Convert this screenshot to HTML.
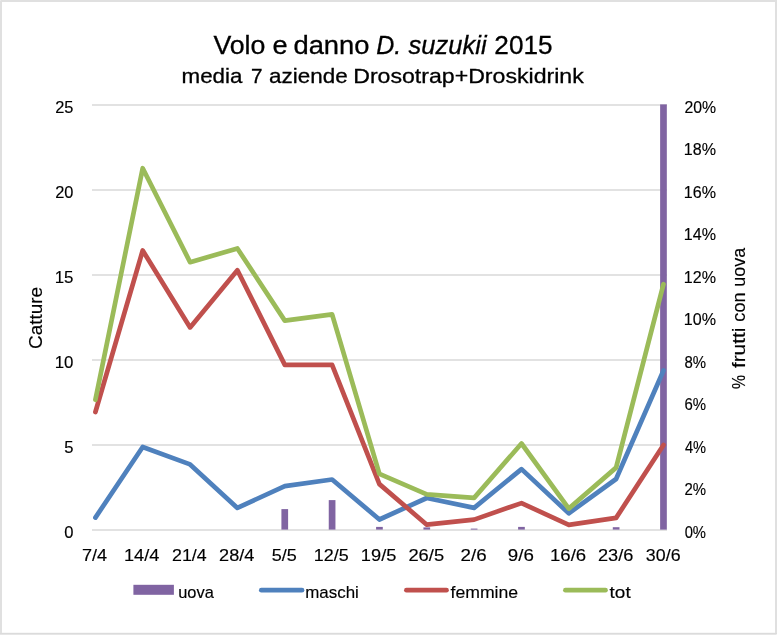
<!DOCTYPE html>
<html lang="it"><head><meta charset="utf-8"><title>Volo e danno D. suzukii 2015</title>
<style>
html,body{margin:0;padding:0;background:#fff;}
body{width:777px;height:635px;overflow:hidden;}
svg{display:block;font-family:"Liberation Sans",sans-serif;fill:#000;}
text{stroke:#000;stroke-width:0.15px;}
.b{stroke-width:0.3px;}
.g{stroke:#d9d9d9;stroke-width:1.5;}
.l{fill:none;stroke-width:4.7;stroke-linejoin:round;stroke-linecap:round;}
</style></head><body>
<svg width="777" height="635" viewBox="0 0 777 635">
<rect x="0" y="0" width="777" height="635" fill="#e0e0e0"/>
<rect x="2" y="2" width="773" height="631" fill="#fff"/>
<rect x="0" y="633" width="777" height="1" fill="#dbdbdb"/>
<rect x="0" y="634" width="777" height="1" fill="#e6e6e6"/>
<rect x="2" y="632" width="773" height="1" fill="#f8f8f8"/>
<rect x="0" y="0" width="1" height="1" fill="#e9e9e9"/>
<rect x="776" y="634" width="1" height="1" fill="#f0f0f0"/>

<line class="g" x1="92" x2="667" y1="105" y2="105"/>
<line class="g" x1="92" x2="667" y1="190" y2="190"/>
<line class="g" x1="92" x2="667" y1="275" y2="275"/>
<line class="g" x1="92" x2="667" y1="360" y2="360"/>
<line class="g" x1="92" x2="667" y1="445" y2="445"/>
<line class="g" x1="92" x2="667" y1="530" y2="530"/>
<rect x="281.41" y="509.1" width="6.70" height="20.5" fill="#8064a2"/>
<rect x="328.75" y="500.1" width="6.70" height="29.5" fill="#8064a2"/>
<rect x="376.09" y="526.9" width="6.70" height="2.7" fill="#8064a2"/>
<rect x="423.43" y="527.4" width="6.70" height="2.2" fill="#8064a2"/>
<rect x="470.77" y="528.6" width="6.70" height="1.0" fill="#8064a2"/>
<rect x="518.11" y="526.9" width="6.70" height="2.7" fill="#8064a2"/>
<rect x="612.79" y="527.2" width="6.70" height="2.4" fill="#8064a2"/>
<rect x="660.13" y="104.4" width="6.70" height="425.2" fill="#8064a2"/>
<polyline class="l" stroke="#4f81bd" points="95.4,517.6 142.7,447.0 190.1,464.4 237.4,507.9 284.8,486.1 332.1,479.5 379.4,519.5 426.8,498.0 474.1,507.9 521.5,469.1 568.8,513.3 616.1,479.0 663.5,370.5"/>
<polyline class="l" stroke="#c0504d" points="95.4,412.0 142.7,250.5 190.1,327.4 237.4,270.2 284.8,364.9 332.1,364.9 379.4,484.1 426.8,524.7 474.1,519.6 521.5,503.1 568.8,524.9 616.1,517.9 663.5,445.0"/>
<polyline class="l" stroke="#9bbb59" points="95.4,399.8 142.7,168.2 190.1,262.2 237.4,248.5 284.8,320.6 332.1,314.4 379.4,473.9 426.8,494.3 474.1,497.9 521.5,443.5 568.8,508.6 616.1,467.6 663.5,284.2"/>
<text x="213.40" y="53.60" font-size="25.7px" class="b" textLength="52.04" lengthAdjust="spacingAndGlyphs">Volo</text>
<text x="272.55" y="53.60" font-size="25.7px" class="b" textLength="15.06" lengthAdjust="spacingAndGlyphs">e</text>
<text x="293.44" y="53.60" font-size="25.7px" class="b" textLength="76.06" lengthAdjust="spacingAndGlyphs">danno</text>
<text x="376.17" y="53.60" font-size="25.7px" font-style="italic" class="b" textLength="24.99" lengthAdjust="spacingAndGlyphs">D.</text>
<text x="408.50" y="53.60" font-size="25.7px" font-style="italic" class="b" textLength="78.09" lengthAdjust="spacingAndGlyphs">suzukii</text>
<text x="494.33" y="53.60" font-size="25.7px" class="b" textLength="58.20" lengthAdjust="spacingAndGlyphs">2015</text>
<text x="181.56" y="82.80" font-size="20.8px" class="b" textLength="60.84" lengthAdjust="spacingAndGlyphs">media</text>
<text x="250.91" y="82.80" font-size="20.8px" class="b" textLength="11.52" lengthAdjust="spacingAndGlyphs">7</text>
<text x="269.09" y="82.80" font-size="20.8px" class="b" textLength="78.53" lengthAdjust="spacingAndGlyphs">aziende</text>
<text x="353.23" y="82.80" font-size="20.8px" class="b" textLength="230.53" lengthAdjust="spacingAndGlyphs">Drosotrap+Droskidrink</text>
<text x="55.25" y="112.80" font-size="16.4px" textLength="18.23" lengthAdjust="spacingAndGlyphs">25</text>
<text x="55.25" y="197.80" font-size="16.4px" textLength="18.23" lengthAdjust="spacingAndGlyphs">20</text>
<text x="54.71" y="282.80" font-size="16.4px" textLength="18.79" lengthAdjust="spacingAndGlyphs">15</text>
<text x="54.71" y="367.80" font-size="16.4px" textLength="18.79" lengthAdjust="spacingAndGlyphs">10</text>
<text x="64.39" y="452.80" font-size="16.4px" textLength="9.24" lengthAdjust="spacingAndGlyphs">5</text>
<text x="64.39" y="537.80" font-size="16.4px" textLength="9.24" lengthAdjust="spacingAndGlyphs">0</text>
<text x="684.38" y="112.80" font-size="16.4px" textLength="31.67" lengthAdjust="spacingAndGlyphs">20%</text>
<text x="683.87" y="155.30" font-size="16.4px" textLength="32.18" lengthAdjust="spacingAndGlyphs">18%</text>
<text x="683.87" y="197.80" font-size="16.4px" textLength="32.18" lengthAdjust="spacingAndGlyphs">16%</text>
<text x="683.87" y="240.30" font-size="16.4px" textLength="32.18" lengthAdjust="spacingAndGlyphs">14%</text>
<text x="683.87" y="282.80" font-size="16.4px" textLength="32.18" lengthAdjust="spacingAndGlyphs">12%</text>
<text x="683.87" y="325.30" font-size="16.4px" textLength="32.18" lengthAdjust="spacingAndGlyphs">10%</text>
<text x="684.42" y="367.80" font-size="16.4px" textLength="21.60" lengthAdjust="spacingAndGlyphs">8%</text>
<text x="684.42" y="410.30" font-size="16.4px" textLength="21.60" lengthAdjust="spacingAndGlyphs">6%</text>
<text x="684.88" y="452.80" font-size="16.4px" textLength="21.13" lengthAdjust="spacingAndGlyphs">4%</text>
<text x="684.42" y="495.30" font-size="16.4px" textLength="21.60" lengthAdjust="spacingAndGlyphs">2%</text>
<text x="684.65" y="537.80" font-size="16.4px" textLength="21.36" lengthAdjust="spacingAndGlyphs">0%</text>
<text x="81.97" y="560.90" font-size="16.4px" textLength="25.16" lengthAdjust="spacingAndGlyphs">7/4</text>
<text x="124.03" y="560.90" font-size="16.4px" textLength="35.33" lengthAdjust="spacingAndGlyphs">14/4</text>
<text x="172.01" y="560.90" font-size="16.4px" textLength="34.66" lengthAdjust="spacingAndGlyphs">21/4</text>
<text x="219.05" y="560.90" font-size="16.4px" textLength="35.28" lengthAdjust="spacingAndGlyphs">28/4</text>
<text x="271.74" y="560.90" font-size="16.4px" textLength="25.05" lengthAdjust="spacingAndGlyphs">5/5</text>
<text x="313.83" y="560.90" font-size="16.4px" textLength="34.88" lengthAdjust="spacingAndGlyphs">12/5</text>
<text x="360.87" y="560.90" font-size="16.4px" textLength="35.52" lengthAdjust="spacingAndGlyphs">19/5</text>
<text x="408.43" y="560.90" font-size="16.4px" textLength="35.67" lengthAdjust="spacingAndGlyphs">26/5</text>
<text x="460.52" y="560.90" font-size="16.4px" textLength="26.08" lengthAdjust="spacingAndGlyphs">2/6</text>
<text x="507.88" y="560.90" font-size="16.4px" textLength="26.08" lengthAdjust="spacingAndGlyphs">9/6</text>
<text x="549.98" y="560.90" font-size="16.4px" textLength="36.16" lengthAdjust="spacingAndGlyphs">16/6</text>
<text x="598.03" y="560.90" font-size="16.4px" textLength="35.36" lengthAdjust="spacingAndGlyphs">23/6</text>
<text x="645.88" y="560.90" font-size="16.4px" textLength="34.66" lengthAdjust="spacingAndGlyphs">30/6</text>
<text x="178.20" y="598.40" font-size="16.4px" textLength="35.60" lengthAdjust="spacingAndGlyphs">uova</text>
<text x="305.27" y="598.40" font-size="16.4px" textLength="53.58" lengthAdjust="spacingAndGlyphs">maschi</text>
<text x="450.53" y="598.40" font-size="16.4px" textLength="67.62" lengthAdjust="spacingAndGlyphs">femmine</text>
<text x="609.61" y="598.40" font-size="16.4px" textLength="21.07" lengthAdjust="spacingAndGlyphs">tot</text>
<text transform="translate(42.30,348.95) rotate(-90)" font-size="18.85px" textLength="62.05" lengthAdjust="spacingAndGlyphs">Catture</text>
<text transform="translate(744.50,388.91) rotate(-90)" font-size="19.2px" textLength="14.08" lengthAdjust="spacingAndGlyphs">%</text>
<text transform="translate(744.50,368.07) rotate(-90)" font-size="19.2px" textLength="40.34" lengthAdjust="spacingAndGlyphs">frutti</text>
<text transform="translate(744.50,321.71) rotate(-90)" font-size="19.2px" textLength="29.34" lengthAdjust="spacingAndGlyphs">con</text>
<text transform="translate(744.50,286.67) rotate(-90)" font-size="19.2px" textLength="38.94" lengthAdjust="spacingAndGlyphs">uova</text>
<rect x="133.4" y="584.8" width="40.5" height="10" fill="#8064a2"/>
<line class="l" stroke="#4f81bd" x1="261.3" x2="302.0" y1="590.2" y2="590.2"/>
<line class="l" stroke="#c0504d" x1="406.4" x2="446.5" y1="590.2" y2="590.2"/>
<line class="l" stroke="#9bbb59" x1="565.4" x2="605.5" y1="590.2" y2="590.2"/>
</svg></body></html>
